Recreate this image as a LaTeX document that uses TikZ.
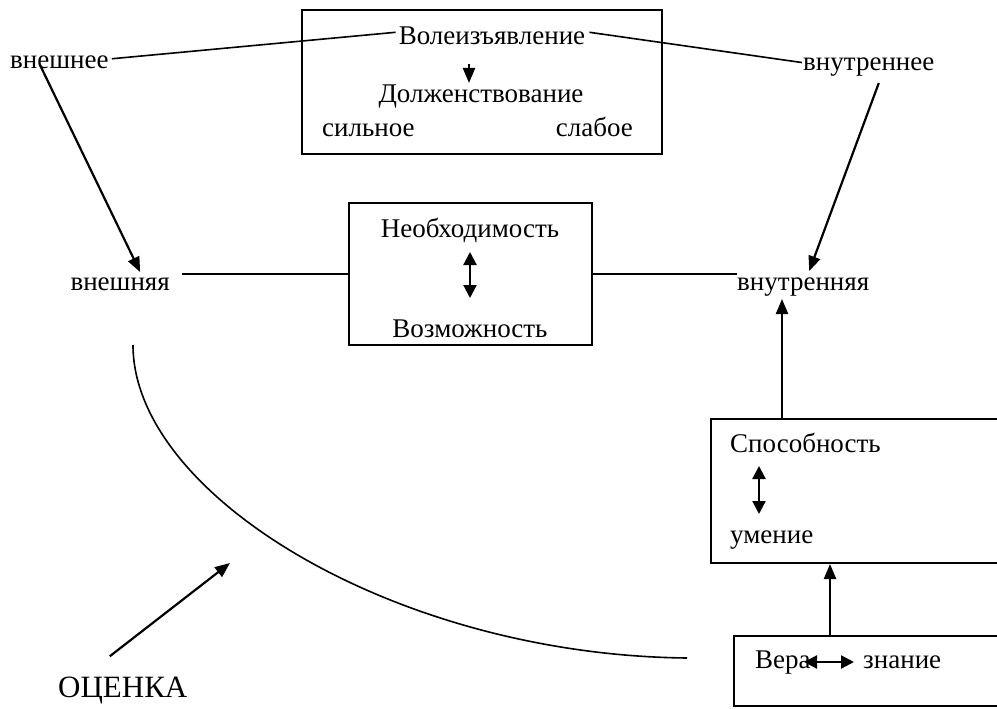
\documentclass[tikz,border=0pt]{standalone}
\usepackage{fontspec}
\setmainfont{Liberation Serif}
\usetikzlibrary{arrows.meta}
\begin{document}
\begin{tikzpicture}[x=1bp,y=-1bp,
  txt/.style={inner sep=0pt, font=\fontsize{27bp}{32bp}\selectfont},
  bigtxt/.style={inner sep=0pt, font=\fontsize{31bp}{36bp}\selectfont},
  frame/.style={draw, line width=2bp, inner sep=0pt},
  link/.style={line width=1.6bp},
  arr/.style={line width=2.2bp, -{Triangle[length=15bp,width=12bp]}},
  dbl/.style={line width=2.2bp, {Triangle[length=13bp,width=13bp]}-{Triangle[length=13bp,width=13bp]}},
]
\useasboundingbox (0,0) rectangle (997,709);

% frames
\node[frame, minimum width=360bp, minimum height=144bp] (topbox) at (482,82) {};
\node[frame, minimum width=243bp, minimum height=142bp] (midbox) at (470.5,274) {};
\node[frame, minimum width=300bp, minimum height=144bp, anchor=north west] (sposbox) at (710,418) {};
\node[frame, minimum width=300bp, minimum height=70bp, anchor=north west] (verabox) at (733,635) {};

% labels
\node[txt, anchor=base west] (vneshnee) at (10,69) {внешнее};
\node[txt, anchor=base] (volya) at (492,45) {Волеизъявление};
\node[txt, anchor=base] (dolzh) at (481,103) {Долженствование};
\node[txt, anchor=base west] (silnoe) at (322,137) {сильное};
\node[txt, anchor=base east] (slaboe) at (633,137) {слабое};
\node[txt, anchor=base west] (vnutrennee) at (803,71) {внутреннее};

\node[txt, anchor=base] (neob) at (470,237) {Необходимость};
\node[txt, anchor=base] (vozm) at (470,337) {Возможность};
\node[txt, anchor=base east] (vneshnyaya) at (170,290) {внешняя};
\node[txt, anchor=base west] (vnutrennyaya) at (737,290) {внутренняя};

\node[txt, anchor=base west] (spos) at (730,452) {Способность};
\node[txt, anchor=base west] (umenie) at (730,543) {умение};
\node[txt, anchor=base west] (vera) at (755,668) {Вера};
\node[txt, anchor=base west] (znanie) at (863,668) {знание};

\node[bigtxt, anchor=base west] (ocenka) at (58,697) {ОЦЕНКА};

% helper points
\coordinate (d1a) at (469,64);  \coordinate (d1b) at (469,83);
\coordinate (d2a) at (470,252); \coordinate (d2b) at (470,298);
\coordinate (d3a) at (759,466); \coordinate (d3b) at (759,514);
\coordinate (d4a) at (804,662); \coordinate (d4b) at (854,662);
\coordinate (upx) at (782,0);
\coordinate (vx) at (830,0);
\coordinate (cvA) at (133,345);
\coordinate (cvB) at (687,658);
\coordinate (otip) at (230,563);

% connectors
\draw[link] ([xshift=3bp,yshift=4bp]vneshnee.east) -- ([xshift=-3bp,yshift=4bp]volya.west);
\draw[link] ([xshift=4bp,yshift=4bp]volya.east) -- ([xshift=-1bp,yshift=5bp]vnutrennee.west);
\draw[arr] ([xshift=30bp,yshift=4bp]vneshnee.base west) -- ([xshift=20bp,yshift=5bp]vneshnyaya.north);
\draw[arr] ([xshift=10bp,yshift=-6bp]vnutrennee.south) -- ([xshift=6bp,yshift=6bp]vnutrennyaya.north);
\draw[link] ([xshift=12bp]vneshnyaya.east |- midbox.west) -- (midbox.west);
\draw[link] (midbox.east) -- (midbox.east -| vnutrennyaya.west);
\draw[arr] (sposbox.north -| upx) -- ([yshift=-3bp]vnutrennyaya.south -| upx);
\draw[arr] (verabox.north -| vx) -- (sposbox.south -| vx);
\draw[link] (cvA) .. controls (133,495) and (395,655) .. (cvB);
\draw[arr] ([xshift=-13bp,yshift=20bp]ocenka.north) -- (otip);

% arrows inside the frames
\draw[arr] (d1a) -- (d1b);
\draw[dbl] (d2a) -- (d2b);
\draw[dbl] (d3a) -- (d3b);
\draw[dbl] (d4a) -- (d4b);
\end{tikzpicture}
\end{document}
